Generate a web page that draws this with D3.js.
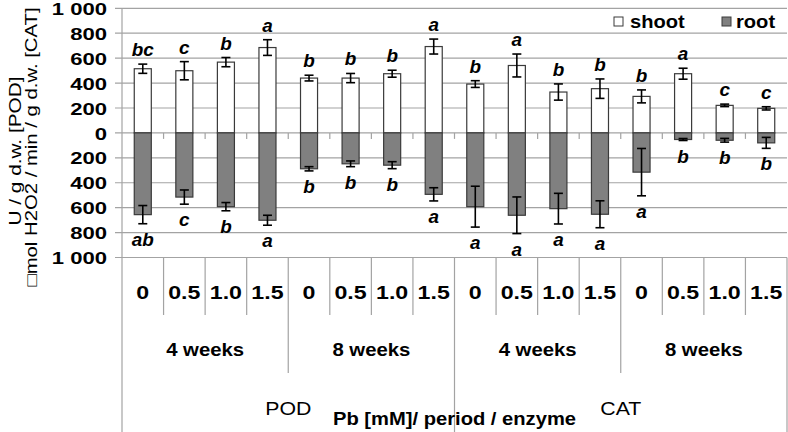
<!DOCTYPE html>
<html><head><meta charset="utf-8">
<script src="https://cdn.jsdelivr.net/npm/d3@7"></script>
<style>body{margin:0;background:#fff}svg{display:block;font-family:"Liberation Sans",Arial,sans-serif}</style>
</head><body>
<svg id="c" width="788" height="432"></svg>
<script>
const pbLevels = ["0","0.5","1.0","1.5","0","0.5","1.0","1.5","0","0.5","1.0","1.5","0","0.5","1.0","1.5"];
const periods = ["4 weeks","8 weeks","4 weeks","8 weeks"];
const enzymes = ["POD","CAT"];
const shoot    = [515, 499, 568, 685, 440, 440, 475, 693, 392, 541, 328, 355, 293, 475, 221, 197];
const shootErr = [37, 73, 37, 63, 23, 37, 28, 60, 27, 92, 65, 78, 52, 44, 10, 13];
const root     = [656, 515, 592, 701, 288, 248, 259, 493, 592, 661, 608, 653, 315, 53, 59, 80];
const rootErr  = [73, 57, 33, 40, 17, 23, 28, 53, 164, 147, 123, 108, 190, 8, 15, 44];
const shootLetters = ["bc","c","b","a","b","b","b","a","b","a","b","b","b","a","c","c"];
const rootLetters  = ["ab","c","b","a","b","b","b","a","a","a","a","a","a","b","b","b"];
const yTicks = [-1000,-800,-600,-400,-200,0,200,400,600,800,1000];
const seriesNames = ["shoot","root"];

const svg = d3.select("#c");
const L = 122, R = 787, T = 8.3, B = 257.5;
const x = d3.scaleBand().domain(d3.range(16)).range([L, R]).paddingInner(0.59).paddingOuter(0.295);
const y = d3.scaleLinear().domain([-1000, 1000]).range([B, T]);
const step = x.step();
const bx = i => L + i * step;
const grid = "#a3a3a3";

function txt(g, px, py, s, o) {
  o = o || {};
  const t = g.append("text")
    .attr("transform", `translate(${px},${py})` + (o.rot ? ` rotate(${o.rot})` : "") + ` scale(${o.sx||1},1)`)
    .attr("text-anchor", o.anchor || "middle")
    .attr("font-size", o.fs || 16)
    .attr("font-weight", o.fw || "normal")
    .attr("font-style", o.fst || "normal")
    .attr("fill", "#000")
    .text(s);
  return t;
}

// gridlines
svg.append("g").selectAll("line").data(yTicks).join("line")
  .attr("x1", L - 7).attr("x2", R).attr("y1", d => y(d)).attr("y2", d => y(d))
  .attr("stroke", grid).attr("stroke-width", 1.2);

// y axis (labels)
const yAxis = d3.axisLeft(y).tickValues(yTicks).tickSize(0)
  .tickFormat(d => Math.abs(d) === 1000 ? "1 000" : String(Math.abs(d)));
const ya = svg.append("g").attr("transform", `translate(${L},0)`).call(yAxis);
ya.select(".domain").remove();
ya.selectAll("text").attr("font-family", null).attr("font-size", 17).attr("font-weight", "bold")
  .attr("fill", "#000").attr("x", -15 / 1.3).attr("dy", "0.36em").attr("transform", "scale(1.3,1)");

// zero ticks
svg.append("g").selectAll("line").data(d3.range(1, 16)).join("line")
  .attr("x1", bx).attr("x2", bx).attr("y1", y(0)).attr("y2", y(0) + 6)
  .attr("stroke", grid).attr("stroke-width", 1.2);

// bars
const bars = svg.append("g");
bars.selectAll("rect.s").data(shoot).join("rect").attr("class", "s")
  .attr("x", (d, i) => x(i)).attr("width", x.bandwidth())
  .attr("y", d => y(d)).attr("height", d => y(0) - y(d))
  .attr("fill", "#fff").attr("stroke", "#3a3a3a").attr("stroke-width", 1.2);
bars.selectAll("rect.r").data(root).join("rect").attr("class", "r")
  .attr("x", (d, i) => x(i)).attr("width", x.bandwidth())
  .attr("y", y(0)).attr("height", d => y(-d) - y(0))
  .attr("fill", "#808080").attr("stroke", "#3a3a3a").attr("stroke-width", 1.2);

// error bars
function errBars(vals, errs, sign) {
  const g = svg.append("g").attr("stroke", "#000").attr("stroke-width", 1.6);
  vals.forEach((v, i) => {
    const cx = x(i) + x.bandwidth() / 2;
    const y1 = y(sign * (v - errs[i])), y2 = y(sign * (v + errs[i]));
    g.append("line").attr("x1", cx).attr("x2", cx).attr("y1", y1).attr("y2", y2);
    [y1, y2].forEach(yy => g.append("line").attr("x1", cx - 4.5).attr("x2", cx + 4.5).attr("y1", yy).attr("y2", yy));
  });
}
errBars(shoot, shootErr, 1);
errBars(root, rootErr, -1);

// letters
const lg = svg.append("g");
shootLetters.forEach((s, i) => txt(lg, x(i) + x.bandwidth() / 2, y(shoot[i] + shootErr[i]) - 8, s, {fs: 18, fw: "bold", fst: "italic", sx: 1.05}));
rootLetters.forEach((s, i) => txt(lg, x(i) + x.bandwidth() / 2, y(-(root[i] + rootErr[i])) + 22, s, {fs: 18, fw: "bold", fst: "italic", sx: 1.05}));

// legend
const leg = svg.append("g");
[["#fff", 614, 630], ["#808080", 722, 736]].forEach((c, k) => {
  leg.append("rect").attr("x", c[1]).attr("y", 17).attr("width", 9).attr("height", 9)
    .attr("fill", c[0]).attr("stroke", "#3a3a3a").attr("stroke-width", 1);
  txt(leg, c[2], 28, seriesNames[k], {fs: 19, fw: "bold", anchor: "start", sx: 1.06});
});

// left axis line
svg.append("line").attr("x1", L).attr("x2", L).attr("y1", T).attr("y2", 432).attr("stroke", grid).attr("stroke-width", 1.2);

// category table
const tg = svg.append("g").attr("stroke", grid).attr("stroke-width", 1.2);
d3.range(1, 17).forEach(i => {
  const bottom = (i === 8 || i === 16) ? 432 : (i % 4 === 0 ? 373 : 315);
  tg.append("line").attr("x1", bx(i)).attr("x2", bx(i)).attr("y1", B).attr("y2", bottom);
});
const lab = svg.append("g");
pbLevels.forEach((s, i) => txt(lab, x(i) + x.bandwidth() / 2, 299, s, {fs: 19, fw: "bold", sx: 1.22}));
periods.forEach((s, k) => txt(lab, bx(k * 4 + 2), 356, s, {fs: 18, fw: "bold", sx: 1.13}));
enzymes.forEach((s, k) => txt(lab, bx(k * 8 + 4), 415, s, {fs: 19, sx: 1.12}));
txt(lab, bx(8), 425, "Pb [mM]/ period / enzyme", {fs: 18, fw: "bold", sx: 1.12});

// y title
const yt = svg.append("g");
txt(yt, 21, 151, "U / g d.w. [POD]", {fs: 16, rot: -90, sx: 1.3});
txt(yt, 37, 147, "\u25A1mol H2O2 / min / g d.w. [CAT]", {fs: 16, rot: -90, sx: 1.27});
</script>
</body></html>
